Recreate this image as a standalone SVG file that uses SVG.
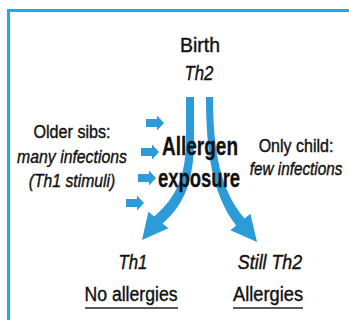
<svg xmlns="http://www.w3.org/2000/svg" width="349" height="320" viewBox="0 0 349 320">
<style>
.t{font-family:"Liberation Sans",Arial,sans-serif;fill:#111;stroke:#111;stroke-width:0.4;text-anchor:middle}
.i{font-style:italic}
.b{font-weight:bold;stroke-width:0.3}
.arr{fill:#2b9bd9}
.ul{stroke:#222;stroke-width:1.5}
</style>
<defs>
<path id="sa" d="M-18,-4 L-7,-4 L-7,-7.5 L0,0 L-7,7.5 L-7,4 L-18,4 Z"/>
</defs>
<rect x="8.5" y="10.5" width="400" height="400" fill="#fff" stroke="#16aee8" stroke-width="3"/>
<g id="connectors" class="arr">
<path d="M186,97 L194,97 L194,140 C194,188 180,208 162.6,223.5 L168.4,228.2 L142,240 L148.4,211.8 L154.2,216.5 C170,202 186,185 186,140 Z"/>
<path d="M206,97 L213,97 C213,150 220,190 244.6,218.5 L250.4,213.7 L257,242 L230.4,230.3 L236.2,225.5 C212,195 206,150 206,97 Z"/>
<use href="#sa" transform="translate(164,123)"/>
<use href="#sa" transform="translate(159,152)"/>
<use href="#sa" transform="translate(156,178)"/>
<use href="#sa" transform="translate(144,203)"/>
</g>
<g id="birth">
<text class="t" transform="translate(200,52) scale(0.926,1)" font-size="21">Birth</text>
<text class="t i" transform="translate(199,80) scale(0.84,1)" font-size="20">Th2</text>
</g>
<g id="older-sibs">
<text class="t" transform="translate(72,138) scale(0.85,1)" font-size="19">Older sibs:</text>
<text class="t i" transform="translate(72,163) scale(0.833,1)" font-size="19">many infections</text>
<text class="t i" transform="translate(72,187) scale(0.83,1)" font-size="19">(Th1 stimuli)</text>
</g>
<g id="allergen">
<text class="t b" transform="translate(200,155) scale(0.76,1)" font-size="25">Allergen</text>
<text class="t b" transform="translate(199,187) scale(0.74,1)" font-size="25">exposure</text>
</g>
<g id="only-child">
<text class="t" transform="translate(296,152) scale(0.89,1)" font-size="18">Only child:</text>
<text class="t i" transform="translate(296,175) scale(0.85,1)" font-size="18">few infections</text>
</g>
<g id="th1-outcome">
<text class="t i" transform="translate(133,269) scale(0.84,1)" font-size="20">Th1</text>
<text class="t" transform="translate(131,301) scale(0.84,1)" font-size="21">No allergies</text>
<line class="ul" x1="85" y1="308" x2="178" y2="308"/>
</g>
<g id="th2-outcome">
<text class="t i" transform="translate(270,269) scale(0.89,1)" font-size="20">Still Th2</text>
<text class="t" transform="translate(268,301) scale(0.87,1)" font-size="21">Allergies</text>
<line class="ul" x1="233" y1="308" x2="303" y2="308"/>
</g>
</svg>
